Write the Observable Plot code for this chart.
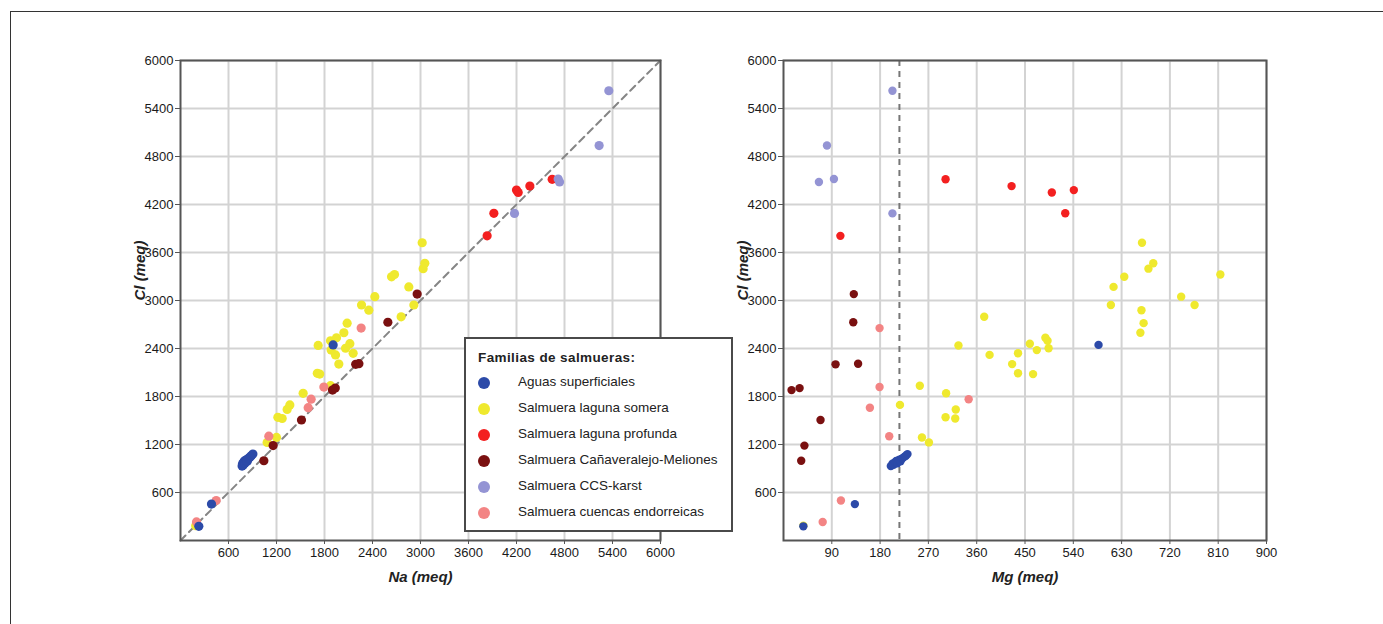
<!DOCTYPE html>
<html>
<head>
<meta charset="utf-8">
<script src="https://cdn.jsdelivr.net/npm/d3@7"></script>
<script src="https://cdn.jsdelivr.net/npm/@observablehq/plot@0.6"></script>
<style>
  html, body { margin: 0; padding: 0; background: #fff; }
  #page { position: relative; width: 1383px; height: 624px; overflow: hidden; font-family: "Liberation Sans", Arial, sans-serif; }
  #outer { position: absolute; left: 10px; top: 11px; width: 1400px; height: 700px; border-top: 1.5px solid #333; border-left: 1.5px solid #333; }
  .panel { position: absolute; top: 0; }
  #legend { position: absolute; left: 464px; top: 337px; width: 265px; height: 191px; border: 2px solid #4a4a4a; background: #fff; color: #222; }
  #legend .title { position: absolute; left: 12px; top: 11px; font-weight: bold; font-size: 13.5px; letter-spacing: 0.4px; }
  #legend .item { position: absolute; left: 0; height: 20px; width: 100%; }
  #legend .dot { position: absolute; left: 12px; top: 4px; width: 12px; height: 12px; border-radius: 50%; }
  #legend .lab { position: absolute; left: 52px; top: 1px; font-size: 13.5px; white-space: nowrap; }
</style>
</head>
<body>
<div id="page">
  <div id="outer"></div>
  <div id="left" class="panel" style="left:0px"></div>
  <div id="right" class="panel" style="left:700px"></div>
  <div id="legend"></div>
</div>
<script>
// Families and colours
const families = ["Aguas superficiales", "Salmuera laguna somera", "Salmuera laguna profunda",
  "Salmuera Cañaveralejo-Meliones", "Salmuera CCS-karst", "Salmuera cuencas endorreicas"];
const colors = ["#2c4aa8", "#efe92e", "#f32020", "#7a1010", "#9494d4", "#f38484"];
const drawOrder = [1, 5, 2, 4, 3, 0];

// Samples: family index, Na, Mg, Cl (meq)
const fam = [
  0,0,0, 0,0,0,0,0,0,0,0,0,0,0,0,0,0,
  1,1,1,1,1,1,1,1,1,1,1,1,1,1,1,1,1,1,1,1,1,1,1,1,1,1,1,1,1,1,1,1,1,
  2,2,2,2,2,2,
  3,3,3,3,3,3,3,3,3,
  4,4,4,4,4,
  5,5,5,5,5,5,5
];
const na = [
  229, 387, 1908, 770, 775, 785, 790, 800, 805, 815, 825, 835, 845, 855, 870, 885, 905,
  1083, 1200, 1217, 1271, 1333, 1367, 1533, 1875, 1710, 1740, 1979, 1938, 2158, 1883, 2063, 1721,
  2117, 1875, 1950, 2042, 2083, 2758, 2917, 2263, 2354, 2429, 2854, 2638, 2675, 3033, 3054, 3021, 190,
  4646, 4367, 4200, 4221, 3917, 3833,
  1042, 1158, 1512, 1900, 1935, 2190, 2230, 2592, 2958,
  5354, 5233, 4721, 4738, 4175,
  200, 446, 1104, 1596, 1633, 1792, 2258
];
const mg = [
  37, 133, 587, 200, 203, 205, 208, 210, 212, 214, 216, 218, 220, 222, 225, 228, 231,
  271, 258, 302, 320, 321, 217, 303, 254, 437, 465, 426, 384, 437, 472, 494, 326,
  459, 492, 488, 665, 671, 374, 610, 766, 667, 741, 615, 635, 814, 680, 689, 668, 37,
  302, 425, 541, 500, 525, 106,
  33, 39, 69, 15, 30, 97, 139, 130, 131,
  203, 81, 94, 66, 203,
  73, 107, 197, 161, 345, 179, 179
];
const cl = [
  177, 455, 2445, 930, 960, 945, 980, 995, 965, 1000, 1010, 990, 1020, 1030, 1045, 1060, 1080,
  1226, 1288, 1540, 1525, 1638, 1695, 1840, 1935, 2090, 2080, 2205, 2320, 2340, 2380, 2403, 2438,
  2460, 2497, 2534, 2597, 2717, 2796, 2944, 2944, 2879, 3048, 3170, 3296, 3325, 3398, 3465, 3722, 185,
  4515, 4430, 4380, 4350, 4090, 3808,
  997, 1186, 1506, 1880, 1905, 2202, 2210, 2728, 3080,
  5622, 4937, 4519, 4482, 4089,
  232, 500, 1304, 1660, 1766, 1918, 2655
];

// Axes
const clTicks = [600, 1200, 1800, 2400, 3000, 3600, 4200, 4800, 5400, 6000];
const naTicks = [600, 1200, 1800, 2400, 3000, 3600, 4200, 4800, 5400, 6000];
const mgTicks = [90, 180, 270, 360, 450, 540, 630, 720, 810, 900];
const oneToOne = [0, 6000];
const mgThreshold = 216;

const samples = fam.map((f, i) => ({f, na: na[i], mg: mg[i], cl: cl[i], color: colors[f]}))
  .sort((a, b) => drawOrder.indexOf(a.f) - drawOrder.indexOf(b.f));

const fontStack = "'Liberation Sans', Arial, sans-serif";

function panel({xKey, xDomain, xTicks, xLabel, width, marginLeft, marginRight, r, extra}) {
  return Plot.plot({
    width, height: 600,
    marginLeft, marginRight, marginTop: 60, marginBottom: 60,
    x: {domain: xDomain},
    y: {domain: [0, 6000]},
    color: {type: "identity"},
    style: {fontFamily: fontStack, fontSize: "13px", color: "#1a1a1a", background: "transparent", overflow: "visible"},
    marks: [
      Plot.gridX(xTicks, {stroke: "#d3d3d3", strokeOpacity: 1, strokeWidth: 2}),
      Plot.gridY(clTicks, {stroke: "#d3d3d3", strokeOpacity: 1, strokeWidth: 2}),
      ...extra,
      Plot.dot(samples, {x: xKey, y: "cl", r, fill: "color", stroke: "none"}),
      Plot.frame({stroke: "#555", strokeWidth: 2}),
      Plot.axisX(xTicks, {tickSize: 4, tickPadding: 3, tickFormat: d => String(d), label: null, stroke: "#555"}),
      Plot.axisY(clTicks, {tickSize: 5, tickPadding: 2, tickFormat: d => String(d), label: null, stroke: "#555"}),
      Plot.text([xLabel], {frameAnchor: "bottom", dy: 41, text: d => d, fontWeight: "bold", fontStyle: "italic", fontSize: 15, fill: "#222"}),
      Plot.text(["Cl (meq)"], {frameAnchor: "left", dx: -40, rotate: -90, text: d => d, fontWeight: "bold", fontStyle: "italic", fontSize: 15, fill: "#222"})
    ]
  });
}

document.getElementById("left").append(panel({
  xKey: "na", xDomain: [0, 6000], xTicks: naTicks, xLabel: "Na (meq)",
  width: 700, marginLeft: 180, marginRight: 40, r: 4.6,
  extra: [Plot.line(oneToOne, {x: d => d, y: d => d, stroke: "#858585", strokeWidth: 2, strokeDasharray: "7,5"})]
}));

document.getElementById("right").append(panel({
  xKey: "mg", xDomain: [0, 900], xTicks: mgTicks, xLabel: "Mg (meq)",
  width: 683, marginLeft: 83, marginRight: 117, r: 4.2,
  extra: [Plot.ruleX([mgThreshold], {stroke: "#777", strokeWidth: 2, strokeDasharray: "6,5"})]
}));

// Legend
const legend = document.getElementById("legend");
const t = document.createElement("div");
t.className = "title"; t.textContent = "Familias de salmueras:";
legend.append(t);
families.forEach((name, i) => {
  const it = document.createElement("div");
  it.className = "item";
  it.style.top = (34 + i * 26) + "px";
  const d = document.createElement("div");
  d.className = "dot"; d.style.background = colors[i];
  const l = document.createElement("div");
  l.className = "lab"; l.textContent = name;
  it.append(d, l);
  legend.append(it);
});
</script>
</body>
</html>
